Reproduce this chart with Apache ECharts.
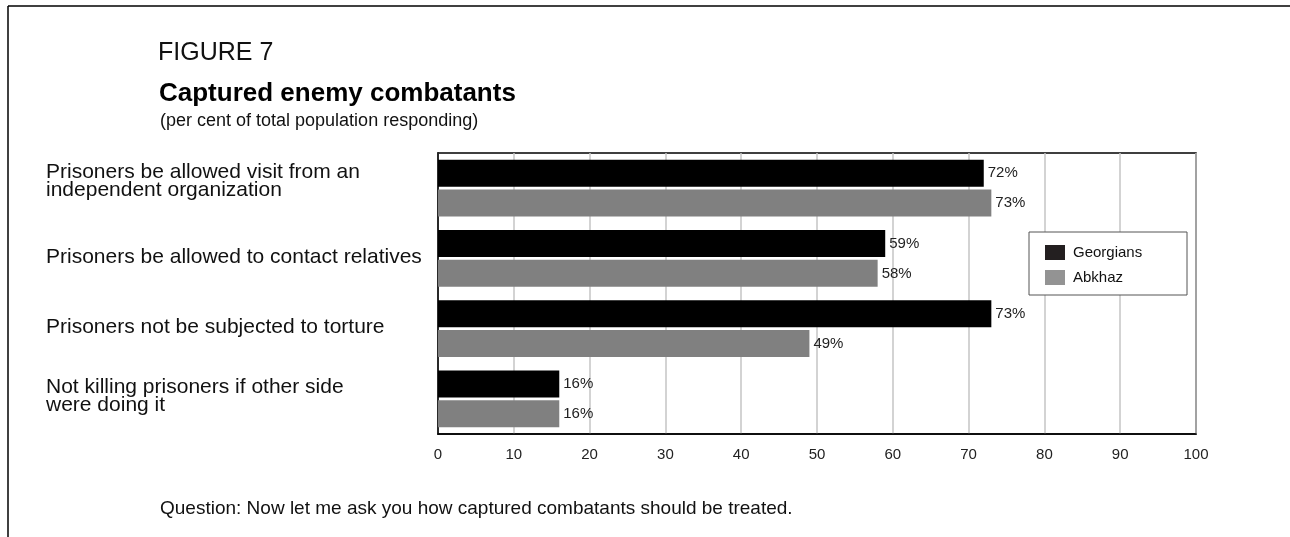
<!DOCTYPE html>
<html>
<head>
<meta charset="utf-8">
<script src="https://cdn.jsdelivr.net/npm/echarts@6/dist/echarts.min.js"></script>
<style>
  html, body { margin: 0; padding: 0; background: #fff; }
  #chart { width: 1290px; height: 537px; }
</style>
</head>
<body>
<div id="chart"></div>
<script>
// Survey items (top to bottom)
const categories = [
  'Prisoners be allowed visit from an\nindependent organization',
  'Prisoners be allowed to contact relatives',
  'Prisoners not be subjected to torture',
  'Not killing prisoners if other side\nwere doing it'
];
const georgians = [72, 59, 73, 16];
const abkhaz = [73, 58, 49, 16];
const seriesNames = ['Georgians', 'Abkhaz'];

const FONT = '"Liberation Sans", Arial, sans-serif';

// Each label gets an empty spacer line below it; its height lifts the
// text block by half that amount (wrapped labels sit higher in their band).
const spacerHeights = [14, 2, 2, 6];
const spacerRich = {};
spacerHeights.forEach((h, i) => {
  spacerRich['g' + i] = { height: h, lineHeight: h, fontSize: 1 };
});

const chart = echarts.init(document.getElementById('chart'), null, { renderer: 'canvas' });

const barLabel = {
  show: true,
  position: 'right',
  distance: 4,
  formatter: '{c}%',
  color: '#222',
  fontSize: 15,
  fontFamily: FONT
};

chart.setOption({
  animation: false,
  backgroundColor: '#fff',
  title: [
    { text: 'FIGURE 7', left: 158, top: 41, padding: 0,
      textStyle: { fontSize: 25, fontWeight: 'normal', color: '#111', fontFamily: FONT } },
    { text: 'Captured enemy combatants', left: 159, top: 81, padding: 0,
      textStyle: { fontSize: 26, fontWeight: 'bold', color: '#000', fontFamily: FONT } },
    { text: '(per cent of total population responding)', left: 160, top: 112, padding: 0,
      textStyle: { fontSize: 18, fontWeight: 'normal', color: '#111', fontFamily: FONT } },
    { text: 'Question: Now let me ask you how captured combatants should be treated.', left: 160, top: 499, padding: 0,
      textStyle: { fontSize: 19, fontWeight: 'normal', color: '#111', fontFamily: FONT } }
  ],
  grid: { left: 438, right: 94, top: 153, bottom: 103, containLabel: false,
          outerBoundsMode: 'none',
          show: true, borderColor: '#000', borderWidth: 1.5 },
  legend: {
    orient: 'vertical',
    left: 1045, top: 245,
    padding: 0,
    itemWidth: 20, itemHeight: 15, itemGap: 10,
    icon: 'rect',
    textStyle: { fontSize: 15, color: '#111', fontFamily: FONT, padding: [0, 0, 0, 3] },
    data: [
      { name: seriesNames[0], itemStyle: { color: '#231f20' } },
      { name: seriesNames[1], itemStyle: { color: '#939393' } }
    ]
  },
  xAxis: {
    type: 'value', min: 0, max: 100, interval: 10,
    axisLine: { show: true, lineStyle: { color: '#000', width: 1.5 } },
    axisTick: { show: false },
    splitLine: { show: true, lineStyle: { color: '#c4c4c4', width: 1.5 } },
    axisLabel: { fontSize: 15, color: '#222', fontFamily: FONT, margin: 13 }
  },
  yAxis: {
    type: 'category', data: categories, inverse: true,
    axisLine: { show: true, lineStyle: { color: '#000', width: 1.5 } },
    axisTick: { show: false },
    axisLabel: {
      fontSize: 21, color: '#111', fontFamily: FONT, lineHeight: 18,
      align: 'left', margin: 392,
      formatter: (value, index) => value + '\n{g' + index + '| }',
      rich: spacerRich
    }
  },
  series: [
    { name: seriesNames[0], type: 'bar', data: georgians, barWidth: 27, barGap: '11%',
      itemStyle: { color: '#000' }, label: barLabel },
    { name: seriesNames[1], type: 'bar', data: abkhaz, barWidth: 27, barGap: '11%',
      itemStyle: { color: '#808080' }, label: barLabel }
  ],
  graphic: [
    { type: 'line', shape: { x1: 8, y1: 6, x2: 1290, y2: 6 },
      style: { stroke: '#000', lineWidth: 1.5 } },
    { type: 'line', shape: { x1: 8, y1: 6, x2: 8, y2: 537 },
      style: { stroke: '#000', lineWidth: 1.5 } },
    { type: 'rect', z: 3, shape: { x: 1029, y: 232, width: 158, height: 63 },
      style: { fill: '#fff', stroke: '#555', lineWidth: 1 } }
  ]
});
</script>
</body>
</html>
